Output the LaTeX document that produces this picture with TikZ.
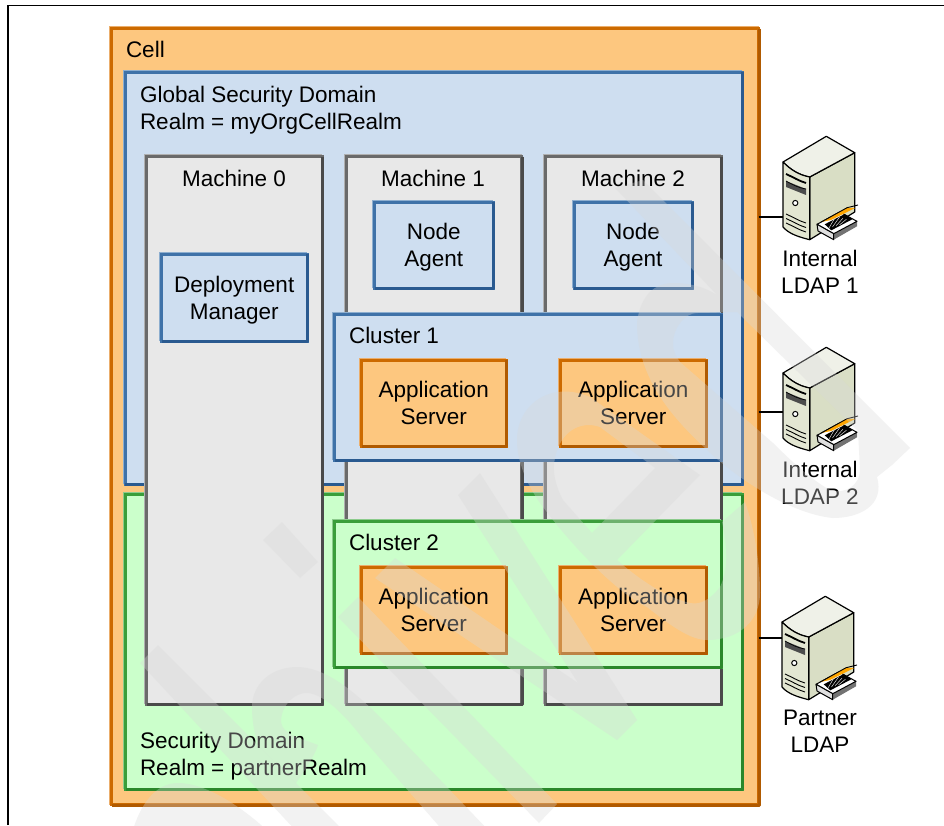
\documentclass[tikz,border=0pt]{standalone}
\usepackage{fontspec}
\setmainfont{Liberation Sans}
\usetikzlibrary{calc}
\definecolor{orF}{HTML}{FDC77F}\definecolor{orM}{HTML}{CC6A00}\definecolor{orD}{HTML}{B05A00}\definecolor{orL}{HTML}{EBAE6C}
\definecolor{blF}{HTML}{CEDEF0}\definecolor{blM}{HTML}{3F72A8}\definecolor{blD}{HTML}{2A5A90}\definecolor{blL}{HTML}{8DAECF}
\definecolor{grF}{HTML}{CBFFCB}\definecolor{grM}{HTML}{3A9E3A}\definecolor{grD}{HTML}{2A882A}\definecolor{grL}{HTML}{8CCB8C}
\definecolor{gyF}{HTML}{E8E8E8}\definecolor{gyM}{HTML}{6A6A6A}\definecolor{gyD}{HTML}{4A4A4A}\definecolor{gyL}{HTML}{B0B0B0}
\definecolor{srvTop}{HTML}{EFF1E8}\definecolor{srvFront}{HTML}{E3E6D2}\definecolor{srvSide}{HTML}{D9DEC5}
\definecolor{wmark}{HTML}{D8D8D8}
\tikzset{
  txt/.style={font=\fontsize{22.5}{27}\selectfont,text=black,inner sep=0pt,outer sep=0pt},
  lbl/.style={txt,align=left,anchor=west},
  ctr/.style={txt,align=center,text depth=0pt},
  wire/.style={draw=black,line width=1.2pt},
  pageline/.style={draw=black,line width=1.2pt},
  wm/.style={fill=wmark,fill opacity=.33},
  server/.pic={
    \draw[black,line width=1.2pt,fill=srvSide,line join=round] (26.7,15)--(71.7,-9.3)--(71.7,50)--(26.7,77.7)--cycle;
    \draw[black,line width=1.2pt,fill=srvTop,line join=round] (0,0)--(43.3,-25.7)--(71.7,-9.3)--(26.7,15) .. controls (16,13) and (8,8) .. (0,0);
    \draw[black,line width=1.2pt,fill=srvFront,line join=round] (0,0) .. controls (8,8) and (16,13) .. (26.7,15)--(26.7,77.7) .. controls (16,75) and (6,72) .. (0,65)--cycle;
    \draw[black,line width=1.8pt] (3,12) .. controls (10,15) and (16,19) .. (23,21);
    \fill[black!70] (3,19)--(23,27)--(23,33)--(3,25)--cycle;
    \draw[black,line width=.7pt] (3,19) .. controls (10,23) and (16,26) .. (23,27);
    \draw[black,line width=1pt,fill=white] (12.3,41) circle (2.6);
    \foreach \d in {0,4.5,9} {\draw[black,line width=.9pt] (3,52+\d) .. controls (10,55+\d) and (16,59+\d) .. (23,61+\d);}
    \fill[black!55] (50.7,71.7)--(74,59.3)--(74,64.3)--(50.7,77.7)--cycle;
    \draw[black,line width=1pt,fill=white,line join=round] (34,62.3)--(56.7,50)--(74,59.3)--(50.7,71.7)--cycle;
    \draw[black,line width=1pt,fill=black!12,line join=round] (34,62.3)--(50.7,71.7)--(50.7,77.7)--(35,69)--cycle;
    \fill[black] (41.7,62.3)--(61.7,52)--(69.3,57.3)--(48.3,68.3)--cycle;
    \foreach \d in {0,3.5,7,10.5} {\draw[white!85!black,line width=.5pt] (46+\d,66-\d*.3)--(53+\d,54+\d*.3);}
    \fill[orange!70!yellow] (38.3,60)--(64,45.7)--(72,46)--(48,58)--cycle;
    \draw[black,line width=.9pt] (38.3,60)--(64,45.7)--(75,43);
  }
}
% #1 name, #2..#5 x1 y1 x2 y2 (stroke centres), #6 palette, #7 text
\newcommand{\ibmbox}[7]{%
  \node[fill=#6F,draw=#6M,line width=3pt,outer sep=0pt,inner sep=0pt,
        minimum width=#4pt-#2pt,minimum height=#5pt-#3pt,ctr]
        (#1) at ({(#2+#4)/2},{(#3+#5)/2}) {#7};
  \draw[#6L,line width=.9pt] ($(#1.south west)+(-1.9,0)$)--($(#1.north west)+(-1.9,-1.9)$)--($(#1.north east)+(0,-1.9)$);
  \draw[#6D,line width=3.2pt,line join=round] ($(#1.north east)+(.6,0)$)--($(#1.south east)+(.6,.6)$)--($(#1.south west)+(0,.6)$);
}
\begin{document}
\begin{tikzpicture}[x=1pt,y=-1pt]
\useasboundingbox (0,0) rectangle (944,825);
\fill[white] (0,0) rectangle (944,825);
\coordinate (pgBL) at (8,825);
\coordinate (pgTL) at (8,5.3);
\coordinate (pgTR) at (944,5.3);
\draw[pageline] (pgBL)--(pgTL)--(pgTR);

\ibmbox{cell}{111.5}{28.5}{758.5}{804.5}{or}{}
\ibmbox{gsd}{125}{72}{742}{484}{bl}{}
\ibmbox{sd}{125.5}{494.5}{742}{789}{gr}{}
\ibmbox{m0}{146.5}{156.5}{322}{704}{gy}{}
\ibmbox{m1}{346}{156.5}{521.5}{704}{gy}{}
\ibmbox{m2}{545.5}{156.5}{721}{704}{gy}{}
\ibmbox{na1}{374.5}{202}{493}{288}{bl}{Node\\Agent}
\ibmbox{na2}{574}{202}{692}{288}{bl}{Node\\Agent}
\ibmbox{dm}{161.5}{254}{307}{341}{bl}{Deployment\\Manager}
\ibmbox{c1}{334.5}{314}{721}{460}{bl}{}
\ibmbox{c2}{334.5}{521}{721}{667}{gr}{}
\ibmbox{as11}{361.5}{360}{506}{446}{or}{Application\\Server}
\ibmbox{as12}{560.5}{360}{706}{446}{or}{Application\\Server}
\ibmbox{as21}{361.5}{567}{506}{653}{or}{Application\\Server}
\ibmbox{as22}{560.5}{567}{706}{653}{or}{Application\\Server}

\node[lbl] (tcell) at (126,49) {Cell};
\node[lbl] (tgsd) at (140,110) {Global Security Domain\\Realm = myOrgCellRealm};
\node[lbl] (tsd) at (140,756) {Security Domain\\Realm = partnerRealm};
\node[ctr] (tm0) at (234,178) {Machine 0};
\node[ctr] (tm1) at (433,178) {Machine 1};
\node[ctr] (tm2) at (633,178) {Machine 2};
\node[lbl] (tc1) at (349,335) {Cluster 1};
\node[lbl] (tc2) at (349,542) {Cluster 2};

\coordinate (s1) at (783,217);
\coordinate (s2) at (783,412);
\coordinate (s3) at (782,638);
\draw[wire] (cell.east |- s1)--(s1);
\draw[wire] (cell.east |- s2)--(s2);
\draw[wire] (cell.east |- s3)--(s3);
\pic at (783,162) {server};
\pic at (783,373) {server};
\pic at (782,622) {server};
\node[ctr] (l1) at (820,272) {Internal\\LDAP 1};
\node[ctr] (l2) at (820,483) {Internal\\LDAP 2};
\node[ctr] (l3) at (820,731) {Partner\\LDAP};

% watermark
\begin{scope}
\clip (0,0) rectangle (944,825);
\fill[wm] (158,645)--(346,833)--(298,833)--(140,663)--cycle;
\fill[wm] (282,522)--(318,562)--(300,578)--(263,540)--cycle;
\fill[wm] (358,597)--(557,804)--(539,823)--(338,617)--cycle;
\fill[wm] (480,473)--(637,720)--(617,740)--(375,578)--(395,558)--(578,683)--(458,495)--cycle;
% hook
\fill[wm] (491,833)--(402,740) .. controls (365,700) and (330,667) .. (297,667)
  .. controls (270,667) and (252,685) .. (252,707) .. controls (252,720) and (254,732) .. (258,745)
  --(296,783) .. controls (305,770) and (315,755) .. (318,745) .. controls (300,738) and (283,735) .. (281,722)
  .. controls (281,705) and (295,692) .. (308,693) .. controls (325,695) and (345,715) .. (364,740)
  --(445,833)--cycle;
% arch
\fill[wm] (132,833) .. controls (140,805) and (155,783) .. (178,783)
  .. controls (205,783) and (240,805) .. (270,833)--(218,833) .. controls (205,825) and (190,825) .. (178,833)--cycle;
% a
\fill[wm,even odd rule] (643,180)--(910,448)--(892,465)--(877,477) .. controls (885,505) and (860,518) .. (833,518)
  .. controls (800,515) and (750,490) .. (707,450)
  .. controls (675,420) and (637,380) .. (637,323) .. controls (640,295) and (655,283) .. (673,283)
  .. controls (690,283) and (705,287) .. (717,295)--(615,188)--cycle
  (697,313) .. controls (685,313) and (673,328) .. (673,343) .. controls (673,352) and (676,356) .. (680,362)
  --(773,443) .. controls (795,465) and (815,482) .. (830,490) .. controls (845,495) and (860,485) .. (860,470)
  --(858,431)--(737,312) .. controls (722,312) and (710,313) .. (697,313)--cycle;
% e
\fill[wm,even odd rule] (700,475)--(590,397) .. controls (550,380) and (517,405) .. (517,440)
  .. controls (517,465) and (530,490) .. (543,507) .. controls (575,550) and (620,595) .. (647,607)
  .. controls (670,625) and (690,640) .. (707,640) .. controls (740,640) and (760,620) .. (760,593)
  .. controls (760,565) and (755,530) .. (745,502)--(722,522) .. controls (728,550) and (728,570) .. (720,587)
  .. controls (710,600) and (700,605) .. (690,603) .. controls (665,597) and (640,580) .. (617,560)--cycle
  (655,468)--(592,533)--(563,500) .. controls (555,485) and (552,470) .. (555,458) .. controls (560,432) and (580,420) .. (600,427)--cycle;
\end{scope}
\end{tikzpicture}
\end{document}
